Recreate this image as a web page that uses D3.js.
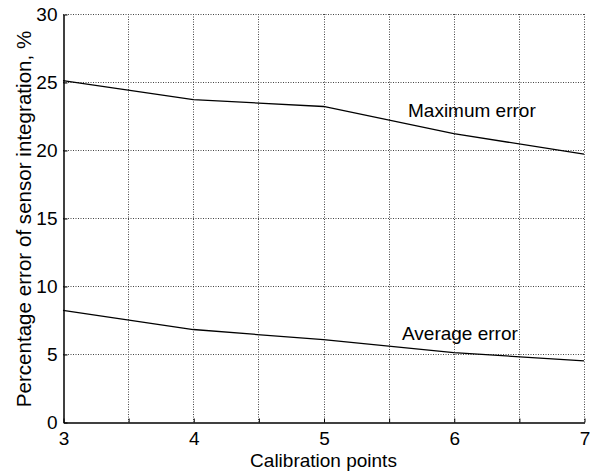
<!DOCTYPE html>
<html>
<head>
<meta charset="utf-8">
<script src="https://cdn.jsdelivr.net/npm/d3@7"></script>
<style>
body { margin: 0; background: #fff; }
text { font-family: "Liberation Sans", Arial, sans-serif; fill: #000; }
</style>
</head>
<body>
<svg id="chart" width="592" height="471"></svg>
<script>
const points = [3, 4, 5, 6, 7];
const maxError = [25.1, 23.7, 23.2, 21.2, 19.7];
const avgError = [8.2, 6.8, 6.05, 5.1, 4.5];
const xTicks = [3, 4, 5, 6, 7];
const xGrid = [3.5, 4, 4.5, 5, 5.5, 6, 6.5, 7];
const yTicks = [0, 5, 10, 15, 20, 25, 30];

const mLeft = 63, mRight = 584, mTop = 14, mBottom = 422;
const fs = 19;

const x = d3.scaleLinear().domain([3, 7]).range([mLeft, mRight]);
const y = d3.scaleLinear().domain([0, 30]).range([mBottom, mTop]);

const svg = d3.select("#chart");

// grid
svg.append("g").selectAll("line")
.data(xGrid)
.join("line")
.attr("x1", d => Math.round(x(d)) + 0.5).attr("x2", d => Math.round(x(d)) + 0.5)
.attr("y1", mTop).attr("y2", mBottom)
.attr("stroke", "#444").attr("stroke-width", 1)
.attr("stroke-dasharray", "1,1.5");

svg.append("g").selectAll("line")
.data(yTicks.slice(1))
.join("line")
.attr("x1", mLeft).attr("x2", mRight)
.attr("y1", d => Math.round(y(d)) + 0.5).attr("y2", d => Math.round(y(d)) + 0.5)
.attr("stroke", "#444").attr("stroke-width", 1)
.attr("stroke-dasharray", "1,1.5");

// axes (ticks inside)
const xAxis = d3.axisBottom(x).tickValues(d3.range(3, 7.01, 0.5)).tickSizeInner(-4).tickSizeOuter(0)
.tickFormat(d => xTicks.includes(d) ? d : "");
const gx = svg.append("g").attr("transform", `translate(0.5, ${mBottom + 0.5})`).call(xAxis);
gx.select(".domain").attr("stroke", "#000").attr("stroke-width", 1.5);
gx.selectAll(".tick text").attr("font-size", fs).attr("y", 6).attr("dy", "0.85em")
.style("font-family", "Liberation Sans, Arial, sans-serif");

const yAxis = d3.axisLeft(y).tickValues(yTicks).tickSizeInner(-4).tickSizeOuter(0);
const gy = svg.append("g").attr("transform", `translate(${mLeft + 0.5}, 0.5)`).call(yAxis);
gy.select(".domain").attr("stroke", "#000").attr("stroke-width", 1.5);
gy.selectAll(".tick text").attr("font-size", fs).attr("x", -6)
.style("font-family", "Liberation Sans, Arial, sans-serif");

// lines
const line = d3.line().x((d, i) => x(points[i])).y(d => y(d));
[maxError, avgError].forEach(s => {
svg.append("path")
.datum(s)
.attr("d", line)
.attr("fill", "none")
.attr("stroke", "#000")
.attr("stroke-width", 1.3);
});

// labels
svg.append("text").attr("x", 408).attr("y", 117).attr("font-size", fs).text("Maximum error");
svg.append("text").attr("x", 402).attr("y", 340).attr("font-size", fs).text("Average error");

svg.append("text")
.attr("x", (mLeft + mRight) / 2).attr("y", 467)
.attr("text-anchor", "middle").attr("font-size", fs)
.text("Calibration points");

svg.append("text")
.attr("transform", `translate(31, ${(mTop + mBottom) / 2 + 1}) rotate(-90)`)
.attr("text-anchor", "middle").attr("font-size", 20.6)
.text("Percentage error of sensor integration, %");
</script>
</body>
</html>
